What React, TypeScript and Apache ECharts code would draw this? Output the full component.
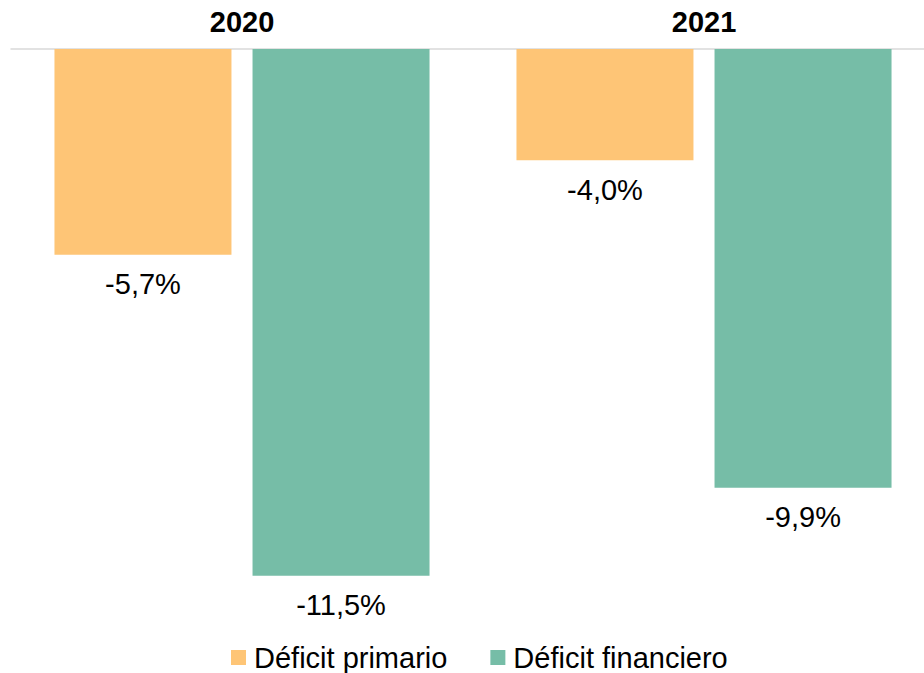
import React, { useEffect, useRef } from "react";
import * as echarts from "echarts";

const categories = ["2020", "2021"];
const seriesNames = ["Déficit primario", "Déficit financiero"];
// bar lengths (the bars are not drawn proportionally to the labels)
const primarioBars = [-4.49, -2.43];
const financieroBars = [-11.5, -9.58];
// label texts shown under the bars
const primarioLabels = ["-5,7%", "-4,0%"];
const financieroLabels = ["-11,5%", "-9,9%"];

const colors = ["#FEC576", "#76BDA7"];
const FONT = "'Liberation Sans', Arial, sans-serif";

export default function App() {
  const ref = useRef<HTMLDivElement>(null);
  useEffect(() => {
    if (!ref.current) return;
    const chart = echarts.init(ref.current, null, { renderer: "svg" });
    const labelOf = (texts: string[]) => ({
      show: true,
      position: "bottom" as const,
      distance: 15,
      fontSize: 29,
      fontFamily: FONT,
      color: "#000",
      formatter: (p: any) => texts[p.dataIndex],
    });
    chart.setOption({
      animation: false,
      textStyle: { fontFamily: FONT },
      grid: { left: 11, top: 49, width: 924, height: 549.6 },
      legend: {
        data: seriesNames,
        left: 231,
        top: 643,
        padding: 0,
        icon: "rect",
        itemWidth: 15,
        itemHeight: 15,
        itemGap: 43,
        textStyle: { fontSize: 29, color: "#000", fontFamily: FONT, padding: [0, 0, 0, 3] },
      },
      xAxis: {
        type: "category",
        position: "top",
        data: categories,
        axisTick: { show: false },
        axisLine: { show: true, lineStyle: { color: "#d9d9d9", width: 1.5 } },
        axisLabel: { fontSize: 29, fontWeight: "bold", color: "#000", margin: 13, fontFamily: FONT },
      },
      yAxis: {
        type: "value",
        min: -12,
        max: 0,
        show: false,
        splitLine: { show: false },
      },
      series: [
        {
          name: seriesNames[0],
          type: "bar",
          data: primarioBars,
          barWidth: 177,
          barGap: "11.9%",
          itemStyle: { color: colors[0] },
          label: labelOf(primarioLabels),
        },
        {
          name: seriesNames[1],
          type: "bar",
          data: financieroBars,
          barWidth: 177,
          barGap: "11.9%",
          itemStyle: { color: colors[1] },
          label: labelOf(financieroLabels),
        },
      ],
    });
    return () => chart.dispose();
  }, []);
  return (
    <div
      style={{ position: "absolute", left: 0, top: 0, width: 924, height: 673, overflow: "hidden" }}
    >
      <div ref={ref} style={{ width: 940, height: 673 }} />
    </div>
  );
}
